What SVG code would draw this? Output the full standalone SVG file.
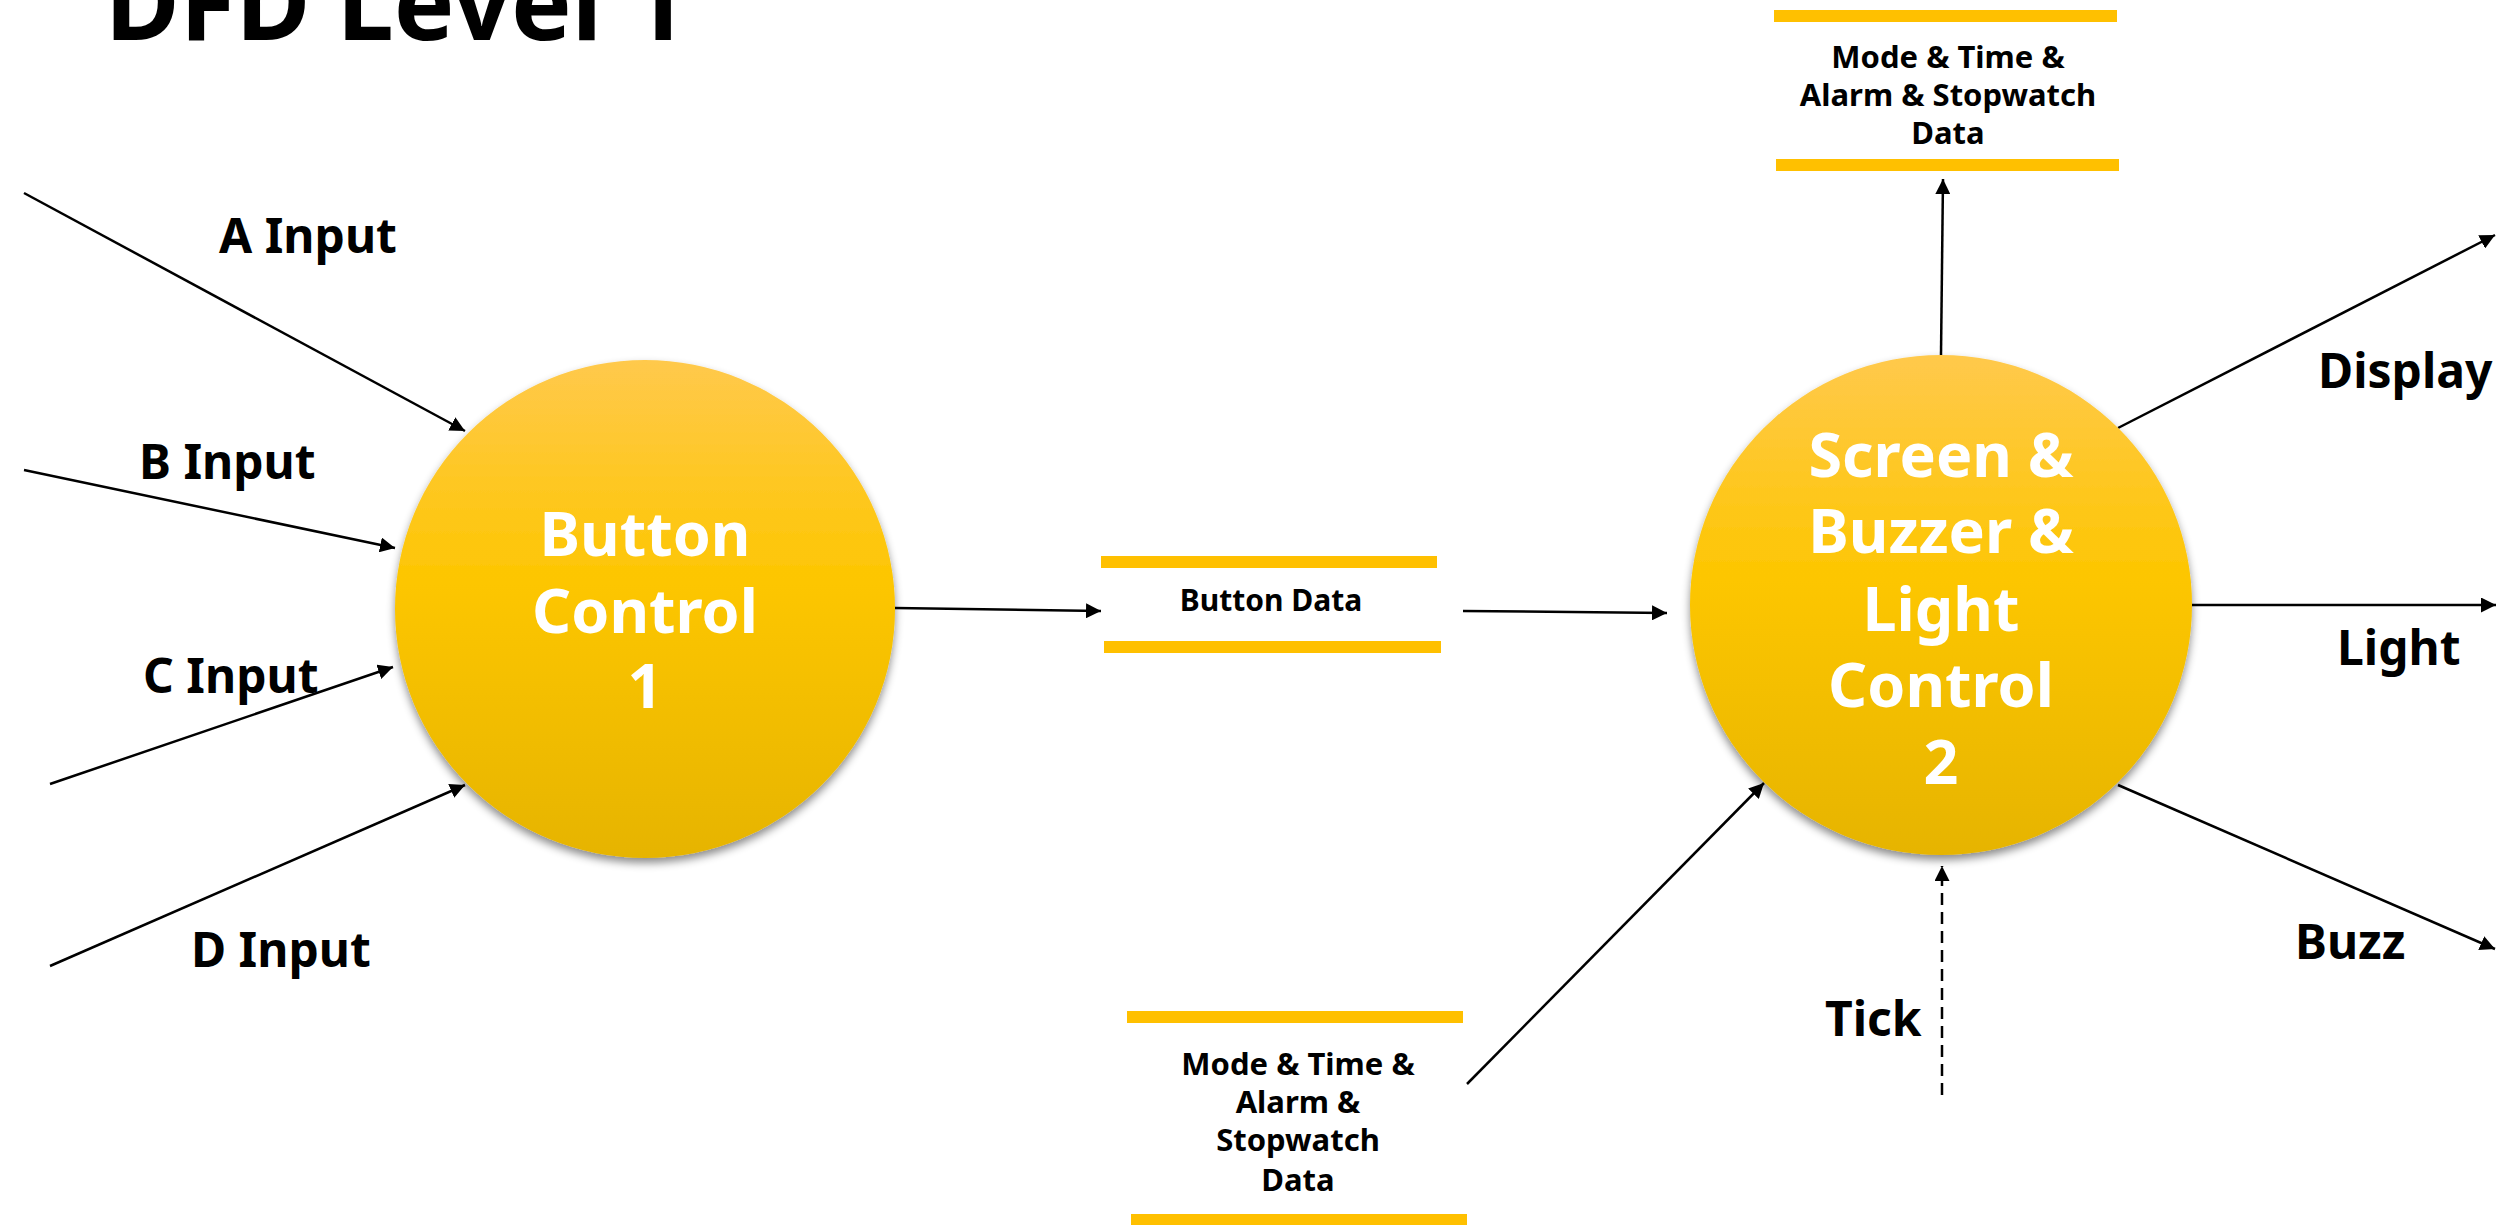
<svg xmlns="http://www.w3.org/2000/svg" width="2509" height="1225" viewBox="0 0 2509 1225">
<style>
.lbl{font-family:"Noto Sans","Liberation Sans",sans-serif;font-weight:bold;fill:#000;}
.big{font-size:48px;}
.store{font-size:31px;text-anchor:middle;}
.proc{font-family:"Noto Sans","Liberation Sans",sans-serif;font-weight:bold;fill:#fff;font-size:61px;text-anchor:middle;}
.bar{fill:#FFC000;}
.flow{stroke:#000;stroke-width:2.5;fill:none;marker-end:url(#arr);}
</style>
<defs>
<linearGradient id="g" x1="0" y1="0" x2="0" y2="1">
<stop offset="0" stop-color="#FFC94C"/>
<stop offset="0.45" stop-color="#FDC600"/>
<stop offset="1" stop-color="#E6B400"/>
</linearGradient>
<filter id="sh" x="-10%" y="-10%" width="120%" height="125%">
<feDropShadow dx="0" dy="5" stdDeviation="4" flood-color="#000" flood-opacity="0.45"/>
</filter>
<marker id="arr" viewBox="0 0 10 10" refX="10" refY="5" markerWidth="6" markerHeight="6" markerUnits="strokeWidth" orient="auto">
<path d="M0,0 L10,5 L0,10 z" fill="#000"/>
</marker>
</defs>
<rect width="2509" height="1225" fill="#fff"/>
<text class="lbl" x="105" y="40" font-size="104" textLength="582" lengthAdjust="spacingAndGlyphs">DFD Level 1</text>

<g id="connectors">
<line class="flow" x1="24" y1="193" x2="465" y2="431"/>
<line class="flow" x1="24" y1="470" x2="395" y2="548"/>
<line class="flow" x1="50" y1="784" x2="393" y2="667"/>
<line class="flow" x1="50" y1="966" x2="465" y2="785"/>
<line class="flow" x1="895" y1="608" x2="1101" y2="611"/>
<line class="flow" x1="1463" y1="611" x2="1667" y2="613"/>
<line class="flow" x1="1941" y1="355" x2="1943" y2="179"/>
<line class="flow" x1="1467" y1="1084" x2="1764" y2="783"/>
<line class="flow" x1="1942" y1="1095" x2="1942" y2="866" stroke-dasharray="12 7"/>
<line class="flow" x1="2118" y1="428" x2="2495" y2="235"/>
<line class="flow" x1="2192" y1="605" x2="2496" y2="605"/>
<line class="flow" x1="2118" y1="785" x2="2495" y2="949"/>
</g>

<g id="labels">
<text class="lbl big" x="219" y="253">A Input</text>
<text class="lbl big" x="139" y="479">B Input</text>
<text class="lbl big" x="143" y="693">C Input</text>
<text class="lbl big" x="191" y="967">D Input</text>
<text class="lbl big" x="2318" y="388">Display</text>
<text class="lbl big" x="2337" y="665">Light</text>
<text class="lbl big" x="2295" y="959">Buzz</text>
<text class="lbl big" x="1825" y="1036">Tick</text>
</g>

<g id="process1">
<ellipse cx="645" cy="609" rx="250" ry="249" fill="url(#g)" filter="url(#sh)"/>
<text class="proc" x="645" y="556">Button</text>
<text class="proc" x="645" y="633">Control</text>
<text class="proc" x="645" y="708">1</text>
</g>

<g id="process2">
<ellipse cx="1941" cy="605" rx="251" ry="250" fill="url(#g)" filter="url(#sh)"/>
<text class="proc" x="1941" y="477">Screen &amp;</text>
<text class="proc" x="1941" y="553">Buzzer &amp;</text>
<text class="proc" x="1941" y="631">Light</text>
<text class="proc" x="1941" y="707">Control</text>
<text class="proc" x="1941" y="784">2</text>
</g>

<g id="store-button-data">
<rect class="bar" x="1101" y="556" width="336" height="12"/>
<rect class="bar" x="1104" y="641" width="337" height="12"/>
<text class="lbl store" x="1271" y="611" style="font-size:30px">Button Data</text>
</g>

<g id="store-top">
<rect class="bar" x="1774" y="10" width="343" height="12"/>
<rect class="bar" x="1776" y="159" width="343" height="12"/>
<text class="lbl store" x="1948" y="68">Mode &amp; Time &amp;</text>
<text class="lbl store" x="1948" y="106">Alarm &amp; Stopwatch</text>
<text class="lbl store" x="1948" y="144">Data</text>
</g>

<g id="store-bottom">
<rect class="bar" x="1127" y="1011" width="336" height="12"/>
<rect class="bar" x="1131" y="1214" width="336" height="12"/>
<text class="lbl store" x="1298" y="1075">Mode &amp; Time &amp;</text>
<text class="lbl store" x="1298" y="1113">Alarm &amp;</text>
<text class="lbl store" x="1298" y="1151">Stopwatch</text>
<text class="lbl store" x="1298" y="1191">Data</text>
</g>
</svg>
